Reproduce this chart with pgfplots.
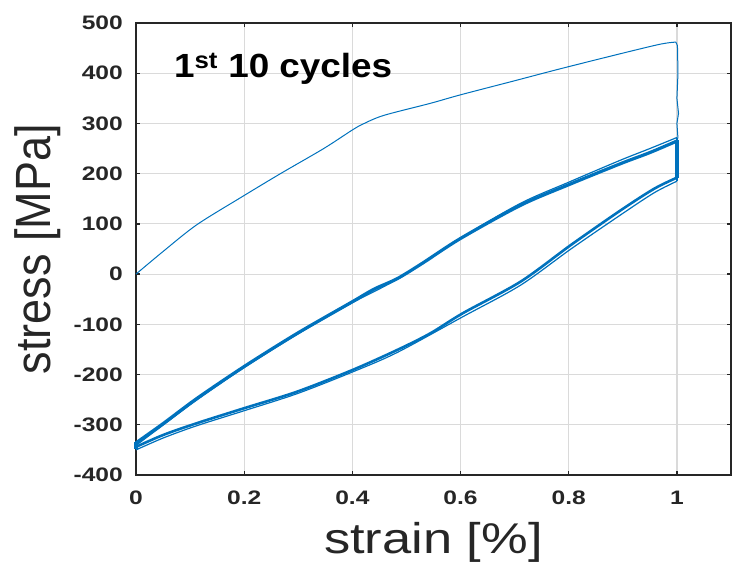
\documentclass[border=0pt]{standalone}
\usepackage{pgfplots}
\pgfplotsset{compat=1.18}
\usepackage{fontspec}
\setmainfont{Liberation Sans}
\definecolor{mblue}{HTML}{0072BD}
\definecolor{axgray}{HTML}{262626}
\definecolor{gridgray}{HTML}{DADADA}
\newcommand{\sx}[1]{\scalebox{1.26}[1]{#1}}
\begin{document}
\begin{tikzpicture}
\begin{axis}[
  at={(0,0)}, anchor=south west,
  scale only axis, width=595bp, height=452bp,
  xmin=0, xmax=1.1, ymin=-400, ymax=500,
  xtick={0,0.2,0.4,0.6,0.8,1},
  xticklabels={\sx{0},\sx{0.2},\sx{0.4},\sx{0.6},\sx{0.8},\sx{1}},
  ytick={-400,-300,-200,-100,0,100,200,300,400,500},
  yticklabels={\sx{-400},\sx{-300},\sx{-200},\sx{-100},\sx{0},\sx{100},\sx{200},\sx{300},\sx{400},\sx{500}},
  grid=major,
  major grid style={color=gridgray, line width=1.2bp},
  tick align=inside, tick pos=both,
  major tick length=4bp,
  axis line style={axgray, line width=1.5bp},
  tick style={axgray, line width=1.3bp},
  ticklabel style={font=\fontsize{19.5bp}{20bp}\selectfont\bfseries, text=axgray},
  xticklabel style={anchor=north, inner sep=0pt, yshift=-16bp},
  yticklabel style={anchor=east, inner sep=0pt, xshift=-13bp},
  xlabel={\scalebox{1.22}[1]{strain [\%]}},
  xlabel style={font=\fontsize{43bp}{44bp}\selectfont, text=axgray, at={(axis description cs:0.5,-0.1726)}, anchor=base},
  ylabel={\scalebox{1}[1.1]{stress [MPa]}},
  ylabel style={font=\fontsize{45bp}{46bp}\selectfont, text=axgray, at={(axis description cs:-0.1445,0.5)}, anchor=base},
  clip=false,
]
% first loading
\addplot[mblue, line width=1bp, smooth, tension=0.5] coordinates {
 (0,0) (0.05,45) (0.112,98) (0.193,152) (0.267,200) (0.347,250) (0.4,287) (0.42,299)
 (0.458,316) (0.544,340) (0.6,357) (0.7,385) (0.785,409) (0.9,440) (0.97,458) (0.998,462)
};
\addplot[mblue, line width=1bp] coordinates {
 (0.998,462) (1.001,455) (1.002,400) (1.0,350) (1.003,320) (1.0,300) (1.002,270)
};
% cycle band (variant)
\addplot[mblue, line width=1.2bp, smooth, tension=0.5] coordinates {
 (0,-341) (0.051,-300) (0.112,-251) (0.2,-186) (0.298,-120) (0.4,-57) (0.483,-10)
 (0.6,72) (0.711,141) (0.8,183) (0.896,227) (0.95,250) (1.0,272)
};
\addplot[mblue, line width=1.2bp] coordinates {(1.0,272) (1.0,230) (1.0,185)};
\addplot[mblue, line width=1.2bp, smooth, tension=0.5] coordinates {
 (1.0,185) (0.958,162) (0.896,118) (0.804,50) (0.711,-22) (0.604,-85) (0.483,-156) (0.4,-195)
 (0.298,-238) (0.2,-272) (0.112,-302) (0.051,-326) (0,-350)
};
% cycle band (core)
\addplot[mblue, line width=3.2bp, smooth, tension=0.5] coordinates {
 (0,-336) (0.051,-297) (0.112,-248) (0.2,-184) (0.298,-118) (0.4,-55) (0.44,-30)
 (0.483,-9) (0.53,22) (0.6,71) (0.711,137) (0.8,178) (0.896,220) (0.95,242) (1.0,265)
};
\addplot[mblue, line width=3.2bp] coordinates {(1.0,268) (1.0,230) (1.0,192)};
\addplot[mblue, line width=2.6bp, smooth, tension=0.5] coordinates {
 (1.0,192) (0.958,170) (0.896,127) (0.804,58) (0.711,-15) (0.604,-78) (0.544,-118) (0.483,-151)
 (0.4,-191) (0.298,-234) (0.2,-267) (0.112,-297) (0.051,-320) (0,-344)
};
\addplot[mblue, line width=3.2bp] coordinates {(0,-348) (0,-334)};
\node[anchor=base west, inner sep=0pt, font=\fontsize{33.5bp}{34bp}\selectfont\bfseries]
  at (axis cs:0.07,392) {\scalebox{1.1}[1]{1\textsuperscript{st} 10 cycles}};
\end{axis}
\pgfresetboundingbox
\path[use as bounding box] (-136bp,-89bp) rectangle (597bp,475bp);
\end{tikzpicture}
\end{document}
